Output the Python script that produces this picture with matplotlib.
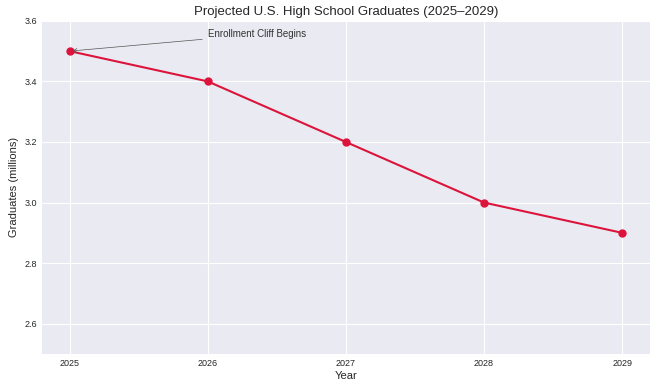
import matplotlib
matplotlib.use('Agg')
import matplotlib.pyplot as plt

# === Data ===
years = [2025, 2026, 2027, 2028, 2029]
graduates = [3.5, 3.4, 3.2, 3.0, 2.9]

# === Plot ===
plt.style.use('seaborn-v0_8-darkgrid')
plt.rcParams['font.family'] = ['Liberation Sans', 'DejaVu Sans']

fig, ax = plt.subplots(figsize=(6.57, 3.79), dpi=100)
fig.subplots_adjust(left=0.064, right=0.989, bottom=0.066, top=0.945)

ax.plot(years, graduates, color='crimson', marker='o', markersize=5, linewidth=1.5)
ax.annotate('Enrollment Cliff Begins', xy=(years[0], graduates[0]), xytext=(2026.0, 3.555),
            fontsize=7, color='#333333', va='center',
            arrowprops=dict(arrowstyle='->', color='#555555', lw=0.5))

ax.set_title('Projected U.S. High School Graduates (2025\u20132029)', fontsize=9.5, pad=4)
ax.set_xlabel('Year', fontsize=8, labelpad=2)
ax.set_ylabel('Graduates (millions)', fontsize=8)
ax.set_xticks(years)
ax.set_ylim(2.5, 3.6)
ax.tick_params(labelsize=6.5)

plt.savefig('out.png', dpi=100)
